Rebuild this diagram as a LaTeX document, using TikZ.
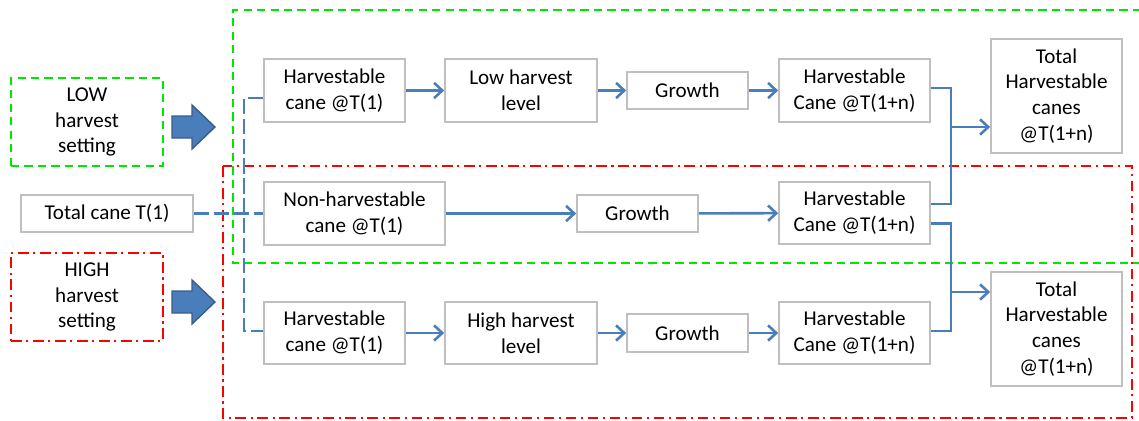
\documentclass[tikz,border=0pt]{standalone}
\usepackage{fontspec}
\setmainfont{Carlito}
\usetikzlibrary{arrows.meta, calc}
\definecolor{flowblue}{HTML}{4A7EBB}
\definecolor{flowdark}{HTML}{385D8A}
\definecolor{boxgray}{HTML}{BFBFBF}
\definecolor{lowgreen}{HTML}{00E600}
\definecolor{highred}{HTML}{FF0000}

\begin{document}
\begin{tikzpicture}[
    x=0.03cm, y=-0.03cm,
    every node/.style={font=\fontsize{18}{22}\selectfont},
    box/.style={draw=boxgray, line width=1.4pt, fill=white, align=center, inner sep=0pt},
    flow/.style={flowblue, line width=2.2pt, -{Straight Barb[length=7pt, width=13pt]}},
    link/.style={flowblue, line width=2.2pt},
    split/.style={flowblue, line width=2.2pt, dash pattern=on 13pt off 4pt},
    lowframe/.style={lowgreen, line width=2pt, dash pattern=on 7pt off 4.5pt},
    highframe/.style={highred, line width=2pt, dash pattern=on 9pt off 4pt on 1.8pt off 4pt},
    block/.style={fill=flowblue, draw=flowdark, line width=1.2pt, line join=miter},
]
\def\S#1{#1*0.03cm}
\useasboundingbox (0,0) rectangle (1139,421);

% ---------------- scenario frames
\draw[lowframe] (1141,10) -- (233,10) -- (233,263) -- (1141,263);
\draw[highframe] (223,166) rectangle (1132,418);

% ---------------- settings on the left
\node[draw=lowgreen, lowframe, align=center, minimum width=\S{152}, minimum height=\S{88}, inner sep=0pt]
    (lowset) at (87,122) {\textcolor{black}{LOW}\\ \textcolor{black}{harvest}\\ \textcolor{black}{setting}};
\node[draw=highred, highframe, align=center, minimum width=\S{152}, minimum height=\S{88}, inner sep=0pt]
    (highset) at (87,297) {\textcolor{black}{HIGH}\\ \textcolor{black}{harvest}\\ \textcolor{black}{setting}};
\foreach \yc in {127, 302}{
    \draw[block] (172,\yc-11) -- (192,\yc-11) -- (192,\yc-22) -- (215,\yc)
        -- (192,\yc+22) -- (192,\yc+11) -- (172,\yc+11) -- cycle;
}

% ---------------- boxes
\node[box, minimum width=\S{172}, minimum height=\S{37}] (total) at (107,213.5) {Total cane T(1)};

\node[box, minimum width=\S{141}, minimum height=\S{63}] (hc1) at (334.5,90.5) {Harvestable\\ cane @T(1)};
\node[box, minimum width=\S{152}, minimum height=\S{63}] (low) at (521,90.5) {Low harvest\\ level};
\node[box, minimum width=\S{121}, minimum height=\S{37}] (g1) at (687.5,90.5) {Growth};
\node[box, minimum width=\S{151}, minimum height=\S{63}] (hn1) at (854.5,90.5) {Harvestable\\ Cane @T(1+n)};
\node[box, minimum width=\S{131}, minimum height=\S{114}] (tot1) at (1056.5,96) {Total\\ Harvestable\\ canes\\ @T(1+n)};

\node[box, minimum width=\S{181}, minimum height=\S{63}] (non) at (354.5,213.5) {Non-harvestable\\ cane @T(1)};
\node[box, minimum width=\S{121}, minimum height=\S{37}] (g2) at (637.5,213.5) {Growth};
\node[box, minimum width=\S{151}, minimum height=\S{62}] (hn2) at (854.5,213) {Harvestable\\ Cane @T(1+n)};

\node[box, minimum width=\S{141}, minimum height=\S{62}] (hc3) at (334.5,333) {Harvestable\\ cane @T(1)};
\node[box, minimum width=\S{152}, minimum height=\S{62}] (high) at (521,333) {High harvest\\ level};
\node[box, minimum width=\S{121}, minimum height=\S{38}] (g3) at (687.5,333) {Growth};
\node[box, minimum width=\S{151}, minimum height=\S{62}] (hn3) at (854.5,333) {Harvestable\\ Cane @T(1+n)};
\node[box, minimum width=\S{131}, minimum height=\S{114}] (tot3) at (1056.5,329) {Total\\ Harvestable\\ canes\\ @T(1+n)};

% ---------------- split of the total cane
\coordinate (fork) at (244,213.5);
\draw[split] ($(hc1.west)+(0,7.5)$) -| (fork) |- ($(hc3.west)+(0,-2)$);
\draw[split] (total.east) -- (non.west);

% ---------------- rows
\draw[flow] (hc1) -- (low);
\draw[flow] (low) -- (g1);
\draw[flow] (g1) -- (hn1);
\draw[flow] (non) -- (g2);
\draw[flow] (g2) -- (hn2);
\draw[flow] (hc3) -- (high);
\draw[flow] (high) -- (g3);
\draw[flow] (g3) -- (hn3);

% ---------------- sums on the right
\coordinate (join1) at (951,127);
\coordinate (join3) at (951,292);
\draw[link] ($(hn1.east)+(0,-2.5)$) -| (join1) |- ($(hn2.east)+(0,-9)$);
\draw[link] ($(hn2.east)+(0,10.5)$) -| (join3) |- ($(hn3.east)+(0,-2)$);
\draw[flow] (join1) -- (join1 -| tot1.west);
\draw[flow] (join3) -- (join3 -| tot3.west);
\end{tikzpicture}
\end{document}
